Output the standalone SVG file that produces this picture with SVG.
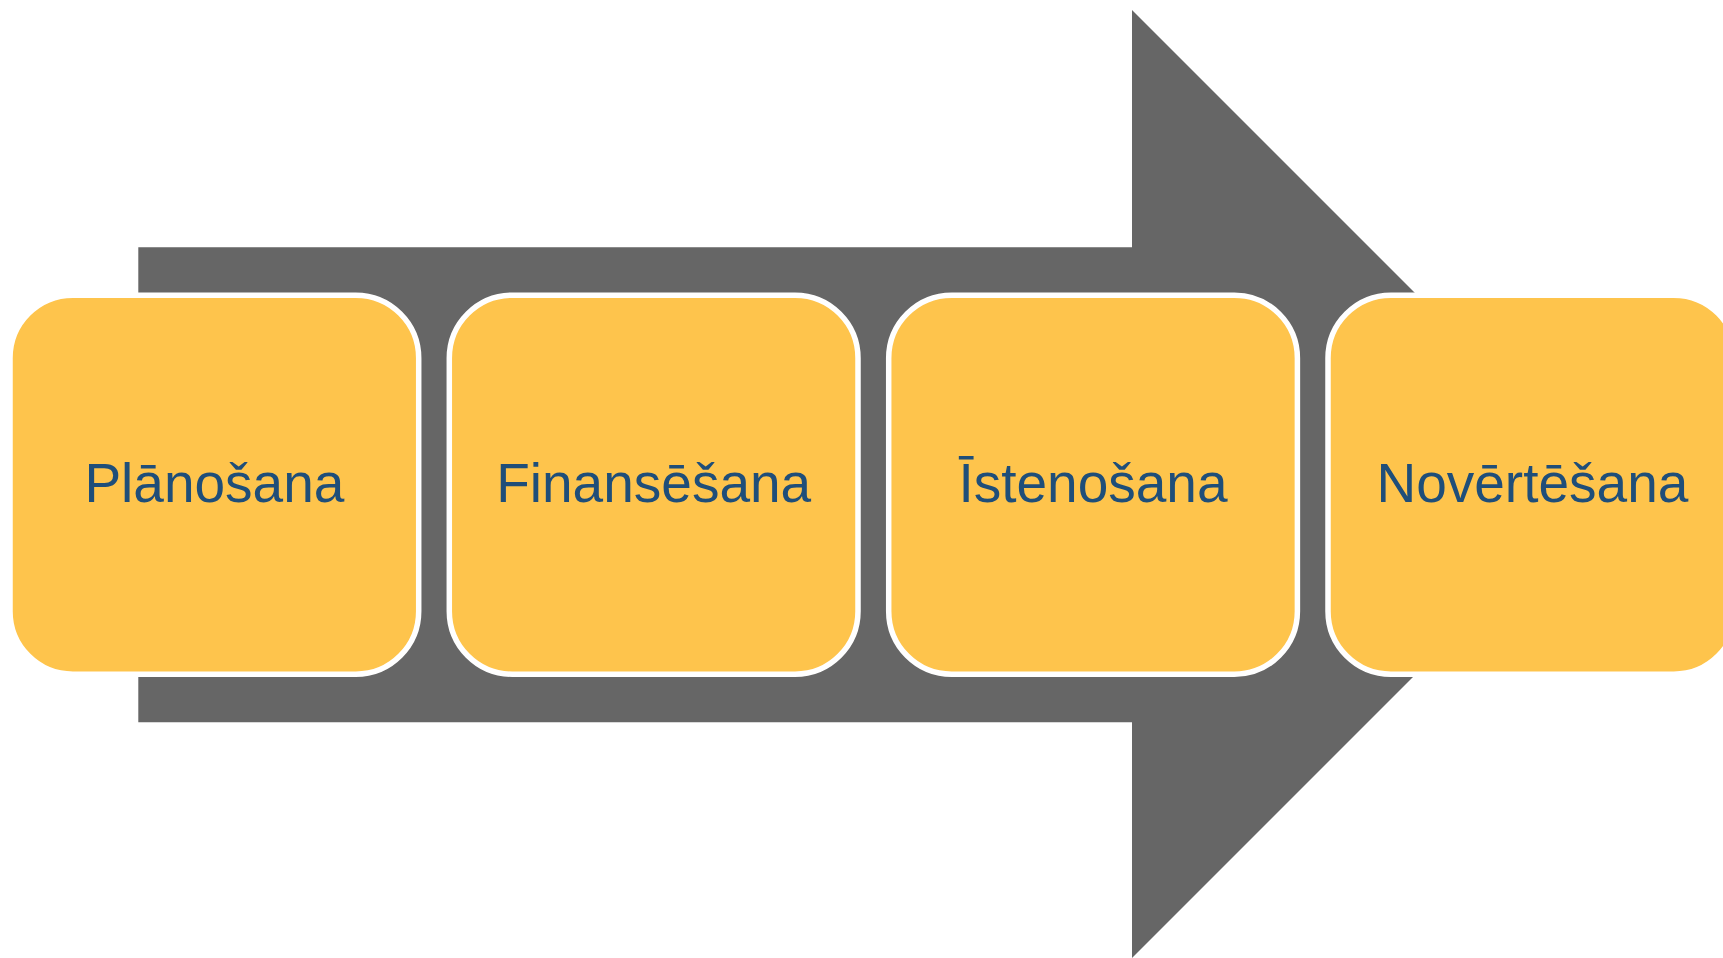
<svg xmlns="http://www.w3.org/2000/svg" width="1723" height="958" viewBox="0 0 1723 958">
<style>
.box{fill:#FEC44C;stroke:#FFFFFF;stroke-width:5.5}
.lbl{font-family:"Liberation Sans",Arial,sans-serif;font-size:55px;fill:#1F4E79;text-anchor:middle}
</style>
<rect width="1723" height="958" fill="#FFFFFF"/>
<g id="connectors">
<polygon points="138.3,247.3 1132,247.3 1132,10 1606,484 1132,958 1132,722.3 138.3,722.3" fill="#666666"/>
</g>
<g id="node1">
<rect class="box" x="10" y="295.2" width="408.7" height="379" rx="63" ry="63"/>
<text class="lbl" x="214.4" y="502">Plānošana</text>
</g>
<g id="node2">
<rect class="box" x="449.3" y="295.2" width="408.7" height="379" rx="63" ry="63"/>
<text class="lbl" x="653.7" y="502">Finansēšana</text>
</g>
<g id="node3">
<rect class="box" x="888.7" y="295.2" width="408.7" height="379" rx="63" ry="63"/>
<text class="lbl" x="1093" y="502">Īstenošana</text>
</g>
<g id="node4">
<rect class="box" x="1328" y="295.2" width="408.7" height="379" rx="63" ry="63"/>
<text class="lbl" x="1532.4" y="502">Novērtēšana</text>
</g>
</svg>
